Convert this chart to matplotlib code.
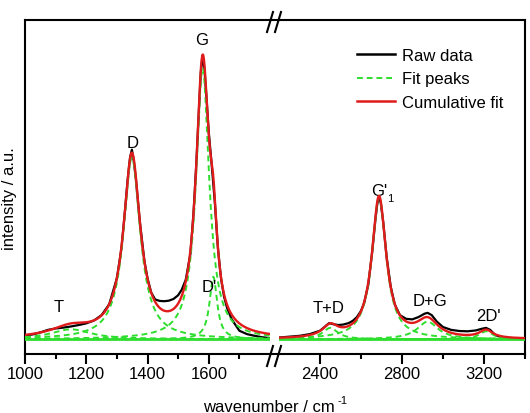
import numpy as np
import matplotlib.pyplot as plt
from matplotlib.lines import Line2D

plt.rcParams['font.family'] = ['Liberation Sans', 'DejaVu Sans']

# ラマンスペクトル(生データ) 読み取り値
raw_x_low = [1000, 1025, 1050, 1075, 1100, 1125, 1150, 1175, 1200, 1225, 1250, 1275,
             1300, 1315, 1325, 1335, 1343, 1349, 1355, 1362, 1375, 1390, 1400, 1412,
             1425, 1440, 1455, 1470, 1485, 1500, 1512, 1525, 1540, 1550, 1560, 1568,
             1574, 1580, 1586, 1592, 1600, 1610, 1620, 1630, 1640, 1650, 1660, 1675,
             1700, 1725, 1750, 1775, 1800]
raw_y_low = [0.013, 0.017, 0.024, 0.033, 0.038, 0.041, 0.045, 0.050, 0.056, 0.066, 0.085, 0.123,
             0.215, 0.320, 0.435, 0.560, 0.640, 0.668, 0.630, 0.565, 0.414, 0.275, 0.215, 0.165,
             0.140, 0.135, 0.134, 0.136, 0.142, 0.155, 0.175, 0.210, 0.300, 0.440, 0.630, 0.810,
             0.940, 1.000, 0.950, 0.860, 0.730, 0.610, 0.480, 0.320, 0.215, 0.150, 0.110, 0.070,
             0.030, 0.018, 0.012, 0.007, 0.004]
raw_x_high = [2200, 2250, 2300, 2350, 2400, 2425, 2445, 2465, 2490, 2515, 2540, 2560,
              2580, 2600, 2615, 2635, 2655, 2670, 2680, 2688, 2696, 2708, 2725, 2745,
              2765, 2790, 2820, 2850, 2880, 2910, 2925, 2945, 2970, 3000, 3040, 3080,
              3120, 3160, 3190, 3210, 3230, 3255, 3290, 3340, 3400]
raw_y_high = [0.006, 0.009, 0.012, 0.018, 0.030, 0.045, 0.057, 0.053, 0.050, 0.052, 0.057, 0.065,
              0.078, 0.100, 0.127, 0.190, 0.310, 0.420, 0.480, 0.502, 0.482, 0.415, 0.290, 0.185,
              0.122, 0.085, 0.072, 0.070, 0.078, 0.090, 0.093, 0.085, 0.062, 0.043, 0.033, 0.029,
              0.028, 0.031, 0.037, 0.040, 0.033, 0.015, 0.006, 0.002, 0.001]

# フィットピーク (ローレンツ) : 中心, 高さ, 半値半幅
low_names = ['T', 'D', 'G', "D'"]
low_centers = [1150, 1349, 1580, 1615]
low_heights = [0.035, 0.64, 0.955, 0.22]
low_hwhm = [80, 33, 26, 15]

high_names = ['T+D', "G'1", 'D+G', "2D'"]
high_centers = [2450, 2688, 2925, 3210]
high_heights = [0.040, 0.50, 0.062, 0.028]
high_hwhm = [45, 42, 62, 40]

GREEN = '#2ede2e'
RED = '#e01b1b'


def lorentz(x, c, h, w):
    return h * w**2 / ((x - c)**2 + w**2)


def draw_part(ax, xr, rx, ry, centers, heights, hwhm):
    x = np.linspace(xr[0], xr[1], 800)
    ax.plot(rx, ry, color='black', lw=1.6, zorder=2)
    total = np.zeros_like(x)
    for c, h, w in zip(centers, heights, hwhm):
        comp = lorentz(x, c, h, w)
        total += comp
        ax.plot(x, comp, color=GREEN, lw=1.4, dashes=(3, 2), zorder=3)
    ax.axhline(0, color=GREEN, lw=2.0, zorder=3)
    ax.plot(x, total, color=RED, lw=1.7, zorder=4)


fig = plt.figure(figsize=(5.3, 4.14), dpi=100)
W, H = 530, 414
ax1 = fig.add_axes([25 / W, 59 / H, 245 / W, 334 / H])
ax2 = fig.add_axes([279 / W, 59 / H, 246 / W, 334 / H])

draw_part(ax1, (1000, 1800), raw_x_low, raw_y_low, low_centers, low_heights, low_hwhm)
draw_part(ax2, (2200, 3400), raw_x_high, raw_y_high, high_centers, high_heights, high_hwhm)

ax1.set_xlim(1000, 1800)
ax2.set_xlim(2200, 3400)
for ax in (ax1, ax2):
    ax.set_ylim(-0.052, 1.125)
    ax.set_yticks([])
    for s in ax.spines.values():
        s.set_linewidth(1.5)
    ax.tick_params(axis='x', which='major', direction='out', length=7, width=1.5,
                   labelsize=12, pad=1.5)
    ax.tick_params(axis='x', which='minor', direction='out', length=3.5, width=1.5)
ax1.spines['right'].set_visible(False)
ax2.spines['left'].set_visible(False)
ax1.set_xticks([1000, 1200, 1400, 1600])
ax1.set_xticks([1100, 1300, 1500, 1700], minor=True)
ax2.set_xticks([2400, 2800, 3200])
ax2.set_xticks([2600, 3000, 3400], minor=True)

# 軸の切れ目
for yb in (21, 355):
    fig.add_artist(Line2D([270 / W, 279 / W], [1 - yb / H, 1 - yb / H],
                          transform=fig.transFigure, color='black', lw=1.5))
    for x0 in (267, 275):
        fig.add_artist(Line2D([x0 / W, (x0 + 6) / W],
                              [1 - (yb + 12) / H, 1 - (yb - 8) / H],
                              transform=fig.transFigure, color='black', lw=1.5))

# ピークラベル
ax1.text(1109, 0.117, 'T', fontsize=12, ha='center', va='center')
ax1.text(1352, 0.695, 'D', fontsize=12, ha='center', va='center')
ax1.text(1578, 1.056, 'G', fontsize=12, ha='center', va='center')
ax1.text(1603, 0.186, "D'", fontsize=12, ha='center', va='center')
ax2.text(2444, 0.112, 'T+D', fontsize=12, ha='center', va='center')
ax2.text(2936, 0.135, 'D+G', fontsize=12, ha='center', va='center')
ax2.text(3220, 0.085, "2D'", fontsize=12, ha='center', va='center')
ax2.text(2688, 0.525, "G'", fontsize=12, ha='center', va='center')
ax2.text(2741, 0.496, '1', fontsize=8, ha='center', va='center')

# 軸ラベル
fig.text(203 / W, 1 - 412 / H, 'wavenumber / cm', fontsize=12, ha='left', va='baseline')
fig.text(338 / W, 1 - 404 / H, '-1', fontsize=8, ha='left', va='baseline')
fig.text(9.5 / W, 1 - 199 / H, 'intensity / a.u.', fontsize=12, rotation=90,
         ha='center', va='center')

handles = [Line2D([], [], color='black', lw=1.8),
           Line2D([], [], color=GREEN, lw=1.4, dashes=(3, 2)),
           Line2D([], [], color=RED, lw=1.8)]
fig.legend(handles, ['Raw data', 'Fit peaks', 'Cumulative fit'], loc='upper left',
           bbox_to_anchor=(357 / W, 1 - 49 / H), bbox_transform=fig.transFigure,
           frameon=False, fontsize=12, handlelength=2.3, handletextpad=0.4,
           labelspacing=0.5, borderpad=0, borderaxespad=0)

fig.savefig('out.png', dpi=100)
